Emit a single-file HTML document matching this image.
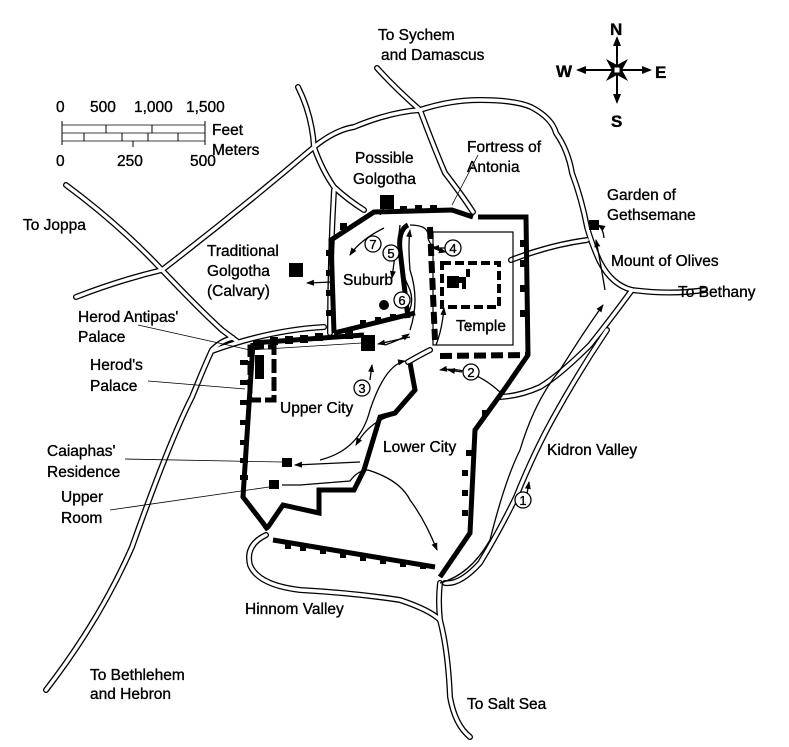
<!DOCTYPE html>
<html><head><meta charset="utf-8"><style>
html,body{margin:0;padding:0;background:#fff;}
svg{display:block;}
text{font-family:"Liberation Sans",sans-serif;font-size:15.5px;fill:#000;stroke:#000;stroke-width:0.35;}
.rd{fill:none;stroke:#000;stroke-width:6;stroke-linecap:round;stroke-linejoin:round;}
.rw{fill:none;stroke:#fff;stroke-width:3.4;stroke-linecap:round;stroke-linejoin:round;}
.w{fill:none;stroke:#000;stroke-width:5;stroke-linejoin:miter;}
.dw{fill:none;stroke:#000;stroke-width:6;stroke-dasharray:12 5;}
.ar{fill:none;stroke:#000;stroke-width:1.3;marker-end:url(#ah);}
.ld{fill:none;stroke:#000;stroke-width:0.8;}
.cn{fill:#fff;stroke:#000;stroke-width:1.3;}
.nm{font-size:13px;text-anchor:middle;}
</style></head><body>
<svg width="789" height="747" viewBox="0 0 789 747" xmlns="http://www.w3.org/2000/svg">
<defs>
<marker id="ah" markerWidth="8" markerHeight="8" refX="7" refY="4" orient="auto" markerUnits="userSpaceOnUse"><path d="M0,1 L8,4 L0,7 Z" fill="#000"/></marker>
<g id="roads">
<path d="M377,68 Q395,88 420,110 Q435,150 445,173 Q462,195 473,212"/>
<path d="M314,147 Q335,130 354,127 Q390,112 420,110 Q450,100 480,100 Q515,100 531,107 Q552,118 556,133 Q568,150 572,173 Q582,200 587,227 Q592,245 600,262 Q612,285 632,290"/>
<path d="M298,87 Q312,115 314,147 Q322,170 334,187 Q348,200 364,210"/>
<path d="M334,190 Q330,260 330,333"/>
<path d="M66,185 Q120,225 162,270 Q200,310 222,330 Q230,336 238,342"/>
<path d="M76,297 Q120,280 162,270 Q240,210 314,147"/>
<path d="M46,690 Q100,620 132,547 Q170,440 192,397 Q205,365 212,350 Q222,340 233,338"/>
<path d="M212,351 Q270,330 324,327"/>
<path d="M511,260 Q550,245 587,240"/>
<path d="M632,290 Q670,295 705,290"/>
<path d="M632,290 Q610,320 590,345 Q560,375 540,387 Q520,396 500,397"/>
<path d="M266,535 Q245,545 250,565 Q258,585 300,590 Q354,593 400,600 Q430,610 440,620 Q448,650 450,697 Q455,725 470,737"/>
<path d="M440,583 Q438,600 440,620"/>
<path d="M445,583 Q460,585 480,563 Q500,530 516,497 Q535,450 556,413 Q580,370 607,330"/>
<path d="M430,350 Q420,355 408,362"/>
</g>
</defs>
<use href="#roads" class="rd"/>
<use href="#roads" class="rw"/>

<path class="w" d="M253,343 L364,335 M253,343 L243,497 L263,523 L268,530"/>
<rect x="250" y="347" width="24" height="53" fill="none" stroke="#000" stroke-width="5" stroke-dasharray="14 4"/>
<rect x="255" y="355" width="9" height="24" fill="#000"/>
<path class="w" d="M273,540 L435,567 M440,577 L470,533 L475,430 L506,387 L528,355 L526,217 L478,217 M334,333 L331,240 L374,212 L452,210 L473,217 M334,333 L415,313"/>
<path class="w" d="M410,363 L415,390 L395,413 L380,417 L364,470 L354,490 L319,490 L319,513 L283,505 L268,527"/>
<path class="dw" d="M440,356 L528,355"/>
<path class="dw" d="M430,227 L435,340"/>
<path class="w" stroke-width="4" d="M408,225 Q398,230 400,250 L408,318" />
<rect x="433" y="232" width="80" height="113" fill="none" stroke="#000" stroke-width="1.2"/>
<rect x="442" y="263" width="57" height="44" fill="none" stroke="#000" stroke-width="4" stroke-dasharray="9 4"/>
<path d="M452,277 h14 v-8 h4 v8 h-4 v12 h-4 v-6 h-10 z" fill="#000"/>
<path d="M447,276 h12 v12 h-12 z" fill="#000"/>
<g fill="#000">
<rect x="240" y="360" width="8" height="5"/><rect x="240" y="380" width="8" height="5"/><rect x="240" y="400" width="8" height="5"/><rect x="240" y="420" width="8" height="5"/><rect x="240" y="440" width="8" height="5"/><rect x="240" y="458" width="8" height="5"/><rect x="240" y="475" width="8" height="5"/>
<rect x="270" y="337" width="8" height="8"/><rect x="285" y="336" width="8" height="8"/><rect x="300" y="335" width="8" height="8"/><rect x="315" y="333" width="8" height="8"/><rect x="345" y="331" width="8" height="8"/>
<rect x="285" y="543" width="6" height="6"/><rect x="300" y="545" width="6" height="6"/><rect x="320" y="548" width="6" height="6"/><rect x="340" y="552" width="6" height="6"/><rect x="360" y="555" width="6" height="6"/><rect x="380" y="558" width="6" height="6"/><rect x="400" y="561" width="6" height="6"/><rect x="420" y="563" width="6" height="6"/>
<rect x="462" y="470" width="6" height="6"/><rect x="462" y="490" width="6" height="6"/><rect x="462" y="510" width="6" height="6"/><rect x="466" y="450" width="6" height="6"/><rect x="482" y="410" width="6" height="6"/>
<rect x="326" y="250" width="6" height="6"/><rect x="326" y="270" width="6" height="6"/><rect x="326" y="290" width="6" height="6"/><rect x="326" y="310" width="6" height="6"/><rect x="360" y="320" width="6" height="6"/><rect x="375" y="317" width="6" height="6"/><rect x="390" y="314" width="6" height="6"/>
<rect x="340" y="223" width="7" height="7"/><rect x="400" y="206" width="7" height="7"/><rect x="415" y="205" width="7" height="7"/><rect x="430" y="205" width="7" height="7"/><rect x="520" y="240" width="7" height="7"/><rect x="520" y="260" width="7" height="7"/><rect x="520" y="285" width="7" height="7"/><rect x="520" y="310" width="7" height="7"/>
<rect x="361" y="335" width="14" height="16"/>
<rect x="380" y="195" width="14" height="14"/>
<rect x="289" y="263" width="14" height="14"/>
<rect x="589" y="220" width="10" height="10"/>
<rect x="282" y="458" width="10" height="9"/>
<rect x="269" y="480" width="10" height="9"/>
<circle cx="384" cy="305" r="5"/>
</g>

<path class="ld" d="M138,325 L250,350 L362,343"/>
<path class="ld" d="M148,381 L245,389"/>
<path class="ld" d="M125,459 L282,462"/>
<path class="ld" d="M110,510 L269,487"/>
<path class="ld" d="M478,155 L452,205"/>
<path class="ld" d="M470,330 L466,322"/>

<g>
<path class="ar" d="M440,583 Q470,575 490,540 Q505,480 520,450 Q535,400 560,370 Q585,330 603,305"/>
<path class="ar" d="M526,500 L529,482"/>
<path class="ar" d="M604,238 Q603,228 598,225"/>
<path class="ar" d="M605,290 Q600,260 596,240"/>
<path class="ar" d="M500,392 Q470,365 440,370"/>
<path class="ar" d="M462,372 L448,370"/>
<path class="ar" d="M395,415 Q370,420 356,445"/>
<path class="ar" d="M320,460 Q360,450 370,410 Q385,365 405,361"/>
<path class="ar" d="M360,462 L295,465"/>
<path class="ar" d="M282,485 L300,485 L350,481 Q358,470 368,470 Q400,480 410,500 Q425,520 437,550"/>
<path class="ar" d="M370,380 L372,365"/>
<path class="ar" d="M385,345 Q400,340 409,334"/>
<path class="ar" d="M410,337 L378,344"/>
<path class="ar" d="M410,330 Q420,300 410,270 Q408,245 410,230"/>
<path class="ar" d="M400,225 Q395,260 410,290 Q415,305 405,318"/>
<path class="ar" d="M395,255 L392,278"/>
<path class="ar" d="M384,228 Q360,240 350,255"/>
<path class="ar" d="M380,215 L388,200"/>
<path class="ar" d="M333,282 L307,283"/>
<path class="ar" d="M446,248 L432,248"/>
<path class="ar" d="M410,225 Q430,225 428,238 Q430,248 446,252"/>
<path class="ar" d="M436,345 Q442,330 444,308"/>
</g>

<g>
<circle class="cn" cx="523" cy="500" r="8"/><text class="nm" x="523" y="505">1</text>
<circle class="cn" cx="471" cy="372" r="8"/><text class="nm" x="471" y="377">2</text>
<circle class="cn" cx="362" cy="388" r="8"/><text class="nm" x="362" y="393">3</text>
<circle class="cn" cx="453" cy="248" r="8"/><text class="nm" x="453" y="253">4</text>
<circle class="cn" cx="391" cy="253" r="8"/><text class="nm" x="391" y="258">5</text>
<circle class="cn" cx="402" cy="300" r="8"/><text class="nm" x="402" y="305">6</text>
<circle class="cn" cx="373" cy="244" r="8"/><text class="nm" x="373" y="249">7</text>
</g>

<g>
<path d="M617,38 L617,102 M578,70 L650,70" stroke="#000" stroke-width="2"/>
<path d="M617,36 l-4,10 h8 z M617,104 l-4,-10 h8 z M576,70 l10,-4 v8 z M652,70 l-10,-4 v8 z" fill="#000"/>
<path d="M606,59 L617,65 L628,59 L622,70 L628,81 L617,75 L606,81 L612,70 Z" fill="#000"/>
<rect x="614" y="67" width="6" height="6" fill="#fff" stroke="#000" stroke-width="1"/>
<text x="610" y="35" style="font-weight:bold;font-size:17px">N</text>
<text x="611" y="127" style="font-weight:bold;font-size:17px">S</text>
<text x="556" y="77" style="font-weight:bold;font-size:17px">W</text>
<text x="655" y="78" style="font-weight:bold;font-size:17px">E</text>
</g>

<g>
<path d="M62,125 H205 M62,133 H205 M62,141 H205" stroke="#000" stroke-width="0.8" fill="none"/>
<path d="M62,121 V145 M205,121 V145 M106,125 V133 M152,125 V133 M84,133 V141 M122,133 V141 M148,133 V141 M178,133 V141 M133,141 V147" stroke="#000" stroke-width="1"/>
<text x="56" y="112">0</text><text x="90" y="112">500</text><text x="134" y="112">1,000</text><text x="186" y="112">1,500</text>
<text x="56" y="166">0</text><text x="117" y="166">250</text><text x="190" y="166">500</text>
<text x="212" y="135">Feet</text><text x="212" y="155">Meters</text>
</g>

<g>
<text x="378" y="40">To Sychem</text>
<text x="381" y="60">and Damascus</text>
<text x="355" y="163">Possible</text>
<text x="353" y="184">Golgotha</text>
<text x="467" y="152">Fortress of</text>
<text x="467" y="172">Antonia</text>
<text x="607" y="200">Garden of</text>
<text x="607" y="220">Gethsemane</text>
<text x="23" y="230">To Joppa</text>
<text x="207" y="256">Traditional</text>
<text x="207" y="276">Golgotha</text>
<text x="207" y="296">(Calvary)</text>
<text x="343" y="285">Suburb</text>
<text x="611" y="266">Mount of Olives</text>
<text x="678" y="297">To Bethany</text>
<text x="456" y="331">Temple</text>
<text x="78" y="322">Herod Antipas'</text>
<text x="78" y="342">Palace</text>
<text x="90" y="370">Herod's</text>
<text x="90" y="391">Palace</text>
<text x="280" y="413">Upper City</text>
<text x="383" y="452">Lower City</text>
<text x="547" y="455">Kidron Valley</text>
<text x="47" y="456">Caiaphas'</text>
<text x="47" y="477">Residence</text>
<text x="61" y="502">Upper</text>
<text x="61" y="523">Room</text>
<text x="245" y="614">Hinnom Valley</text>
<text x="90" y="680">To Bethlehem</text>
<text x="90" y="699">and Hebron</text>
<text x="467" y="709">To Salt Sea</text>
</g>
</svg>
</body></html>
